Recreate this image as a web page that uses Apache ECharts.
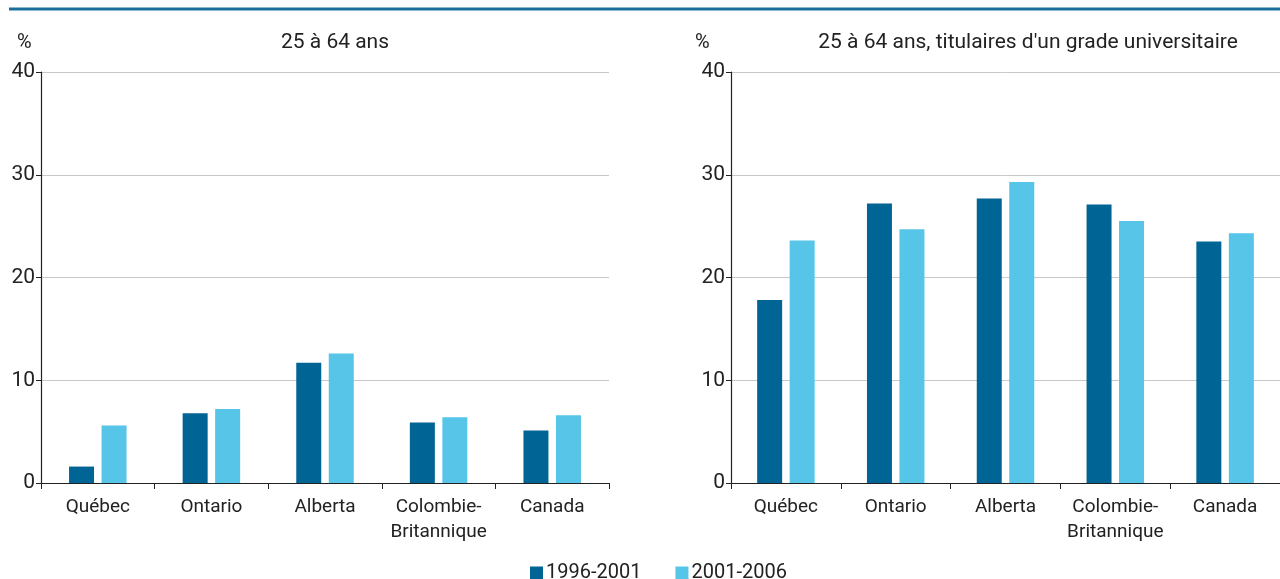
<!DOCTYPE html>
<html>
<head>
<meta charset="utf-8">
<script src="https://cdn.jsdelivr.net/npm/echarts@6/dist/echarts.min.js"></script>
<style>
  html, body { margin: 0; padding: 0; background: #fff; }
  #chart { width: 1280px; height: 579px; }
</style>
</head>
<body>
<div id="chart"></div>
<script>
var categories = ['Québec', 'Ontario', 'Alberta', 'Colombie-\nBritannique', 'Canada']
var periods = ['1996-2001', '2001-2006']
var all_1996_2001 = [1.6, 6.8, 11.7, 5.9, 5.1]
var all_2001_2006 = [5.6, 7.2, 12.6, 6.4, 6.6]
var univ_1996_2001 = [17.8, 27.2, 27.7, 27.1, 23.5]
var univ_2001_2006 = [23.6, 24.7, 29.3, 25.5, 24.3]
var panel_titles = ['25 à 64 ans', "25 à 64 ans, titulaires d'un grade universitaire"]

var font = "Roboto, sans-serif"
var dark = '#006494'
var light = '#56c5e8'

function make_x(idx) {
    return {
        type: 'category',
        gridIndex: idx,
        data: categories,
        axisLine: { lineStyle: { color: '#222', width: 1.2 } },
        axisTick: { show: true, length: 6, lineStyle: { color: '#222' } },
        axisLabel: { interval: 0, color: '#222', fontFamily: font, fontSize: 19, lineHeight: 25, margin: 12 }
    }
}

function make_y(idx) {
    return {
        type: 'value',
        gridIndex: idx,
        min: 0,
        max: 40,
        interval: 10,
        axisLine: { show: true, lineStyle: { color: '#222', width: 1.2 } },
        axisTick: { show: true, length: 5, lineStyle: { color: '#222' } },
        splitLine: { lineStyle: { color: '#c8c8c8' } },
        axisLabel: { color: '#222', fontFamily: font, fontSize: 21, margin: 6 }
    }
}

function make_bar(name, data, color, idx) {
    return {
        type: 'bar',
        name: name,
        xAxisIndex: idx,
        yAxisIndex: idx,
        data: data,
        barWidth: 25,
        barGap: '30%',
        itemStyle: { color: color },
        animation: false
    }
}

var chart = echarts.init(document.getElementById('chart'))
var options = {
    animation: false,
    textStyle: { fontFamily: font },
    title: [
        { text: panel_titles[0], left: 330, textAlign: 'center', top: 27, textStyle: { fontFamily: font, fontSize: 21, fontWeight: 'normal', color: '#222' } },
        { text: panel_titles[1], left: 1023, textAlign: 'center', top: 27, textStyle: { fontFamily: font, fontSize: 21, fontWeight: 'normal', color: '#222' } },
        { text: '%', left: 12, top: 28, textStyle: { fontFamily: font, fontSize: 20, fontWeight: 'normal', color: '#222' } },
        { text: '%', left: 690, top: 28, textStyle: { fontFamily: font, fontSize: 20, fontWeight: 'normal', color: '#222' } }
    ],
    graphic: [
        { type: 'line', shape: { x1: 9, y1: 9, x2: 1280, y2: 9 }, style: { stroke: '#1a6e9c', lineWidth: 3 } }
    ],
    legend: {
        data: periods,
        top: 558,
        left: 525,
        itemWidth: 13,
        itemHeight: 13,
        itemGap: 34,
        icon: 'rect',
        textStyle: { fontFamily: font, fontSize: 20, color: '#222', padding: [0, 0, 0, -2] }
    },
    grid: [
        { left: 41, right: 671, top: 72, bottom: 96 },
        { left: 731, right: 0, top: 72, bottom: 96 }
    ],
    xAxis: [make_x(0), make_x(1)],
    yAxis: [make_y(0), make_y(1)],
    series: [
        make_bar(periods[0], all_1996_2001, dark, 0),
        make_bar(periods[1], all_2001_2006, light, 0),
        make_bar(periods[0], univ_1996_2001, dark, 1),
        make_bar(periods[1], univ_2001_2006, light, 1)
    ]
}
chart.setOption(options)
window.addEventListener('resize', () => { chart.resize() }, false)
</script>
</body>
</html>
